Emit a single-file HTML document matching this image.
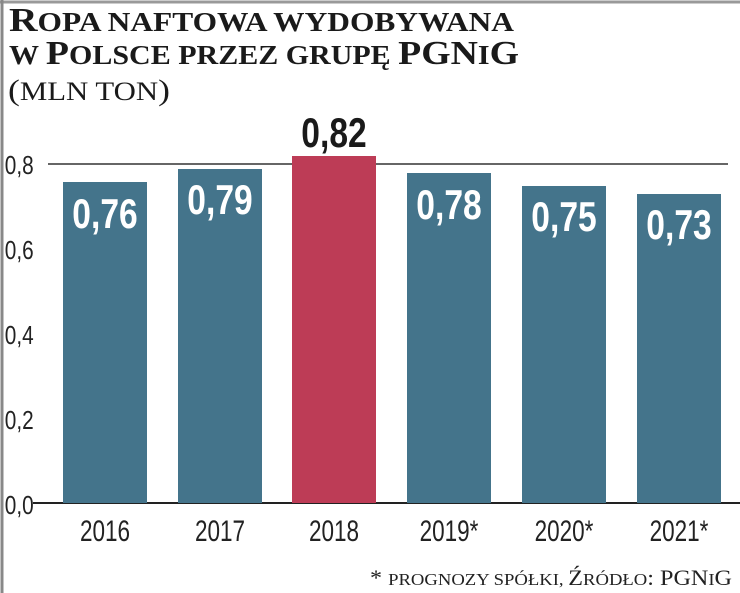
<!DOCTYPE html>
<html><head><meta charset="utf-8"><style>
body{margin:0;background:#fff;}
svg{display:block}
</style></head><body>
<svg width="740" height="593" viewBox="0 0 740 593" xmlns="http://www.w3.org/2000/svg">
<rect x="0" y="0" width="740" height="593" fill="#fff"/>
<line x1="0" y1="2" x2="740" y2="2" stroke="#999" stroke-width="3"/>
<line x1="2" y1="0" x2="2" y2="593" stroke="#888" stroke-width="3"/>
<g font-family="Liberation Serif, serif" font-weight="bold" fill="#1a1a1a">
<text x="9" y="31" font-size="34" textLength="505" lengthAdjust="spacingAndGlyphs">R<tspan font-size="27">OPA NAFTOWA WYDOBYWANA</tspan></text>
<text x="9" y="64" font-size="34" textLength="510" lengthAdjust="spacingAndGlyphs"><tspan font-size="27">W </tspan>P<tspan font-size="27">OLSCE PRZEZ GRUPĘ </tspan>PGN<tspan font-size="27">I</tspan>G</text>
</g>
<text x="8" y="100" font-family="Liberation Serif, serif" font-size="30" fill="#1a1a1a" textLength="162" lengthAdjust="spacingAndGlyphs">(<tspan font-size="26">MLN TON</tspan>)</text>
<line x1="48" y1="164" x2="728" y2="164" stroke="#333" stroke-width="1.5"/>
<line x1="33" y1="503" x2="740" y2="503" stroke="#222" stroke-width="2"/>
<g font-family="Liberation Sans, sans-serif" font-size="26" fill="#222" transform="scale(0.8,1)">
<text x="6" y="174">0,8</text>
<text x="6" y="259">0,6</text>
<text x="6" y="344">0,4</text>
<text x="6" y="429">0,2</text>
<text x="6" y="514">0,0</text>
</g>
<g fill="#44748b">
<rect x="63" y="182" width="84" height="321"/>
<rect x="178" y="169" width="84" height="334"/>
<rect x="407" y="173" width="84" height="330"/>
<rect x="522" y="186" width="84" height="317"/>
<rect x="637" y="194" width="84" height="309"/>
</g>
<rect x="292" y="156" width="84" height="347" fill="#bd3c56"/>
<g font-family="Liberation Sans, sans-serif" font-weight="bold" font-size="42" fill="#fff" text-anchor="middle">
<text transform="translate(105,228) scale(0.8,1)">0,76</text>
<text transform="translate(220,214) scale(0.8,1)">0,79</text>
<text transform="translate(449,219) scale(0.8,1)">0,78</text>
<text transform="translate(564,231) scale(0.8,1)">0,75</text>
<text transform="translate(679,239) scale(0.8,1)">0,73</text>
</g>
<text transform="translate(334,147) scale(0.8,1)" font-family="Liberation Sans, sans-serif" font-weight="bold" font-size="42" fill="#1a1a1a" text-anchor="middle">0,82</text>
<g font-family="Liberation Sans, sans-serif" font-size="30" fill="#222" text-anchor="middle">
<text transform="translate(105,541) scale(0.75,1)">2016</text>
<text transform="translate(220,541) scale(0.75,1)">2017</text>
<text transform="translate(334,541) scale(0.75,1)">2018</text>
<text transform="translate(449,541) scale(0.75,1)">2019*</text>
<text transform="translate(564,541) scale(0.75,1)">2020*</text>
<text transform="translate(679,541) scale(0.75,1)">2021*</text>
</g>
<text x="370" y="585" font-family="Liberation Serif, serif" font-size="22" fill="#222" textLength="362" lengthAdjust="spacingAndGlyphs">* <tspan font-size="17">PROGNOZY SPÓŁKI, </tspan>Ź<tspan font-size="17">RÓDŁO</tspan>: PGN<tspan font-size="17">I</tspan>G</text>
</svg>
</body></html>
